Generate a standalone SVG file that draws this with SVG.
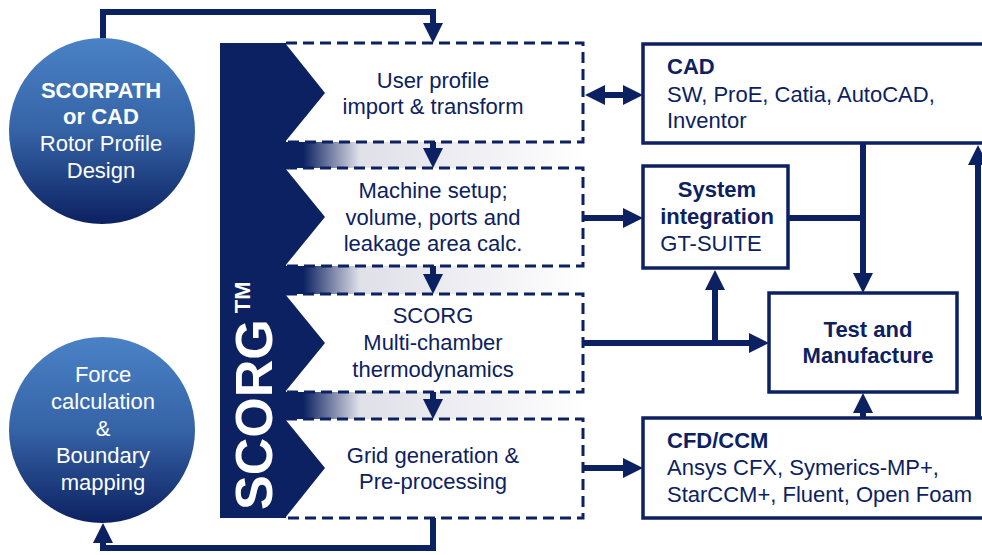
<svg xmlns="http://www.w3.org/2000/svg" width="982" height="555" viewBox="0 0 982 555">
<defs>
<linearGradient id="circGrad" x1="0" y1="0" x2="0" y2="1">
<stop offset="0" stop-color="#4a82c6"/>
<stop offset="0.5" stop-color="#3563a6"/>
<stop offset="1" stop-color="#0c2161"/>
</linearGradient>
<linearGradient id="bandGrad" x1="285" y1="0" x2="583" y2="0" gradientUnits="userSpaceOnUse">
<stop offset="0" stop-color="#0c2161"/>
<stop offset="0.06" stop-color="#0c2161"/>
<stop offset="0.25" stop-color="#dfe0e8"/>
<stop offset="0.6" stop-color="#eeeef3"/>
<stop offset="1" stop-color="#ffffff"/>
</linearGradient>
<marker id="ah" markerUnits="userSpaceOnUse" markerWidth="20" markerHeight="20" refX="6" refY="10" orient="auto-start-reverse" viewBox="0 0 20 20">
<path d="M0,0 L20,10 L0,20 z" fill="#0c2161"/>
</marker>
<style>
.t{font-family:"Liberation Sans",Arial,sans-serif;font-size:22px;fill:#0c2161}
.w{fill:#ffffff}
.b{font-weight:bold}
.c{text-anchor:middle}
.dash{fill:none;stroke:#0c2161;stroke-width:3;stroke-dasharray:11 6}
.box{fill:#ffffff;stroke:#0c2161;stroke-width:3.5}
.con{fill:none;stroke:#0c2161;stroke-width:6}
.arr{marker-end:url(#ah)}
.dark{fill:#0c2161}
</style>
</defs>
<rect width="982" height="555" fill="#ffffff"/>

<g id="scorpath">
<circle cx="102" cy="131" r="93" fill="url(#circGrad)"/>
<text class="t w c b" x="101" y="98">SCORPATH</text>
<text class="t w c b" x="101" y="124">or CAD</text>
<text class="t w c" x="101" y="151">Rotor Profile</text>
<text class="t w c" x="101" y="178">Design</text>
</g>

<g id="force">
<circle cx="102" cy="430" r="93" fill="url(#circGrad)"/>
<text class="t w c" x="103" y="382">Force</text>
<text class="t w c" x="103" y="409">calculation</text>
<text class="t w c" x="103" y="436">&amp;</text>
<text class="t w c" x="103" y="463">Boundary</text>
<text class="t w c" x="103" y="490">mapping</text>
</g>

<g id="scorg">
<rect x="285" y="142" width="298" height="26" fill="url(#bandGrad)"/>
<rect x="285" y="266" width="298" height="28" fill="url(#bandGrad)"/>
<rect x="285" y="392" width="298" height="27" fill="url(#bandGrad)"/>
<rect class="dark" x="220" y="43" width="66" height="475"/>
<polygon class="dark" points="285,43 325,93 285,142"/>
<polygon class="dark" points="285,168 325,217 285,266"/>
<polygon class="dark" points="285,294 325,343 285,392"/>
<polygon class="dark" points="285,419 325,468 285,518"/>
<text class="t w b" font-size="52" style="font-size:52px" transform="translate(272,510) rotate(-90)">SCORG<tspan style="font-size:22px" dx="6" dy="-22">TM</tspan></text>
</g>

<g id="step1">
<path class="dash" d="M286,43 H583 V142 H286"/>
<text class="t c" x="433" y="88">User profile</text>
<text class="t c" x="433" y="114">import &amp; transform</text>
</g>
<g id="step2">
<path class="dash" d="M286,168 H583 V266 H286"/>
<text class="t c" x="433" y="198">Machine setup;</text>
<text class="t c" x="433" y="225">volume, ports and</text>
<text class="t c" x="433" y="251">leakage area calc.</text>
</g>
<g id="step3">
<path class="dash" d="M286,294 H583 V392 H286"/>
<text class="t c" x="433" y="323">SCORG</text>
<text class="t c" x="433" y="350">Multi-chamber</text>
<text class="t c" x="433" y="377">thermodynamics</text>
</g>
<g id="step4">
<path class="dash" d="M286,419 H583 V518 H286"/>
<text class="t c" x="433" y="463">Grid generation &amp;</text>
<text class="t c" x="433" y="489">Pre-processing</text>
</g>

<g id="cad">
<rect class="box" x="643" y="44" width="360" height="99"/>
<text class="t b" x="667" y="74">CAD</text>
<text class="t" x="667" y="102">SW, ProE, Catia, AutoCAD,</text>
<text class="t" x="667" y="128">Inventor</text>
</g>
<g id="system">
<rect class="box" x="643" y="166" width="145" height="102"/>
<text class="t c b" x="717" y="197">System</text>
<text class="t c b" x="717" y="224">integration</text>
<text class="t c" x="711" y="251">GT-SUITE</text>
</g>
<g id="test">
<rect class="box" x="769" y="293" width="188" height="99"/>
<text class="t c b" x="868" y="337">Test and</text>
<text class="t c b" x="868" y="363">Manufacture</text>
</g>
<g id="cfd">
<rect class="box" x="643" y="418" width="360" height="100"/>
<text class="t b" x="667" y="448">CFD/CCM</text>
<text class="t" x="667" y="475">Ansys CFX, Symerics-MP+,</text>
<text class="t" x="667" y="502">StarCCM+, Fluent, Open Foam</text>
</g>

<g id="connectors">
<path class="con arr" d="M103,38 V12 H433 V29"/>
<path class="con arr" d="M433,518 V548 H103 V537"/>
<path class="con arr" d="M433,142 V154"/>
<path class="con arr" d="M433,266 V280"/>
<path class="con arr" d="M433,392 V405"/>
<path class="con arr" d="M599,95 H629" marker-start="url(#ah)"/>
<path class="con arr" d="M583,218 H629"/>
<path class="con" d="M788,218 H863"/>
<path class="con arr" d="M863,143 V279"/>
<path class="con arr" d="M583,343 H755"/>
<path class="con arr" d="M715,343 V284"/>
<path class="con arr" d="M863,418 V407"/>
<path class="con arr" d="M583,468 H629"/>
<path class="con arr" d="M978,418 V159"/>
</g>
</svg>
